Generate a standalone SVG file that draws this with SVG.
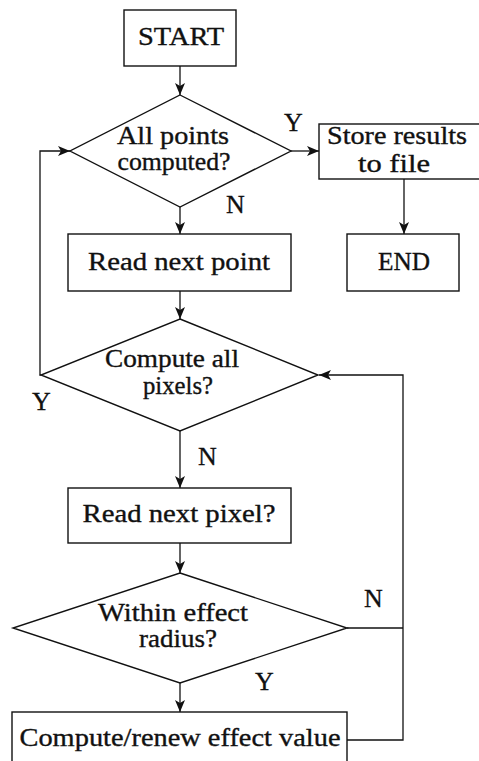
<svg xmlns="http://www.w3.org/2000/svg" width="479" height="761" viewBox="0 0 479 761">
  <style>
    .shape { fill: #ffffff; stroke: #111111; stroke-width: 1.4; }
    .edge { fill: none; stroke: #111111; stroke-width: 1.3; }
    .label { font-family: "Liberation Serif", "DejaVu Serif", serif; font-size: 25px; fill: #111111; stroke: #111111; stroke-width: 0.35; text-anchor: middle; }
    .tag { font-family: "Liberation Serif", "DejaVu Serif", serif; font-size: 26px; fill: #111111; stroke: #111111; stroke-width: 0.3; }
  </style>
  <defs>
    <marker id="arrow" viewBox="0 0 12 10" refX="12" refY="5" markerWidth="12" markerHeight="10" markerUnits="userSpaceOnUse" orient="auto">
      <path d="M0,0 L12,5 L0,10 L3,5 Z" fill="#111111"/>
    </marker>
  </defs>
  <rect width="479" height="761" fill="#ffffff"/>

  <g id="connectors">
    <line class="edge" x1="180" y1="66" x2="180" y2="95" marker-end="url(#arrow)"/>
    <line class="edge" x1="291" y1="151" x2="319" y2="151" marker-end="url(#arrow)"/>
    <line class="edge" x1="404" y1="179" x2="404" y2="234" marker-end="url(#arrow)"/>
    <line class="edge" x1="180" y1="207" x2="180" y2="234" marker-end="url(#arrow)"/>
    <line class="edge" x1="180" y1="291" x2="180" y2="319" marker-end="url(#arrow)"/>
    <polyline class="edge" points="41,375 40,375 40,151 70,151" marker-end="url(#arrow)"/>
    <line class="edge" x1="180" y1="431" x2="180" y2="488" marker-end="url(#arrow)"/>
    <line class="edge" x1="180" y1="543" x2="180" y2="573" marker-end="url(#arrow)"/>
    <line class="edge" x1="180" y1="683" x2="180" y2="712" marker-end="url(#arrow)"/>
    <line class="edge" x1="347" y1="628" x2="403" y2="628"/>
    <polyline class="edge" points="347,740 403,740 403,375 319,375" marker-end="url(#arrow)"/>
  </g>

  <g id="start">
    <rect class="shape" x="124" y="10" width="112" height="56"/>
    <text class="label" x="181" y="45" textLength="86" lengthAdjust="spacingAndGlyphs">START</text>
  </g>

  <g id="all-points">
    <polygon class="shape" points="180,95 291,151 180,207 70,151"/>
    <text class="label" x="173" y="144" textLength="112" lengthAdjust="spacingAndGlyphs">All points</text>
    <text class="label" x="174" y="170" textLength="113" lengthAdjust="spacingAndGlyphs">computed?</text>
  </g>

  <g id="store-results">
    <rect class="shape" x="319" y="124" width="162" height="55"/>
    <text class="label" x="397" y="144" textLength="140" lengthAdjust="spacingAndGlyphs">Store results</text>
    <text class="label" x="394" y="172" textLength="72" lengthAdjust="spacingAndGlyphs">to file</text>
  </g>

  <g id="end">
    <rect class="shape" x="347" y="234" width="112" height="57"/>
    <text class="label" x="404" y="270" textLength="52" lengthAdjust="spacingAndGlyphs">END</text>
  </g>

  <g id="read-point">
    <rect class="shape" x="68" y="234" width="223" height="57"/>
    <text class="label" x="179" y="270" textLength="182" lengthAdjust="spacingAndGlyphs">Read next point</text>
  </g>

  <g id="all-pixels">
    <polygon class="shape" points="180,319 318,375 180,431 41,375"/>
    <text class="label" x="172" y="367" textLength="134" lengthAdjust="spacingAndGlyphs">Compute all</text>
    <text class="label" x="178" y="394" textLength="70" lengthAdjust="spacingAndGlyphs">pixels?</text>
  </g>

  <g id="read-pixel">
    <rect class="shape" x="68" y="488" width="223" height="55"/>
    <text class="label" x="179" y="522" textLength="193" lengthAdjust="spacingAndGlyphs">Read next pixel?</text>
  </g>

  <g id="within-radius">
    <polygon class="shape" points="180,573 347,628 180,683 13,628"/>
    <text class="label" x="173" y="621" textLength="150" lengthAdjust="spacingAndGlyphs">Within effect</text>
    <text class="label" x="178" y="647" textLength="78" lengthAdjust="spacingAndGlyphs">radius?</text>
  </g>

  <g id="compute-effect">
    <rect class="shape" x="12" y="712" width="335" height="60"/>
    <text class="label" x="180" y="746" textLength="321" lengthAdjust="spacingAndGlyphs">Compute/renew effect value</text>
  </g>

  <g id="branch-labels">
    <text class="tag" x="284" y="131">Y</text>
    <text class="tag" x="226" y="213">N</text>
    <text class="tag" x="32" y="410">Y</text>
    <text class="tag" x="198" y="465">N</text>
    <text class="tag" x="364" y="607">N</text>
    <text class="tag" x="255" y="690">Y</text>
  </g>
</svg>
